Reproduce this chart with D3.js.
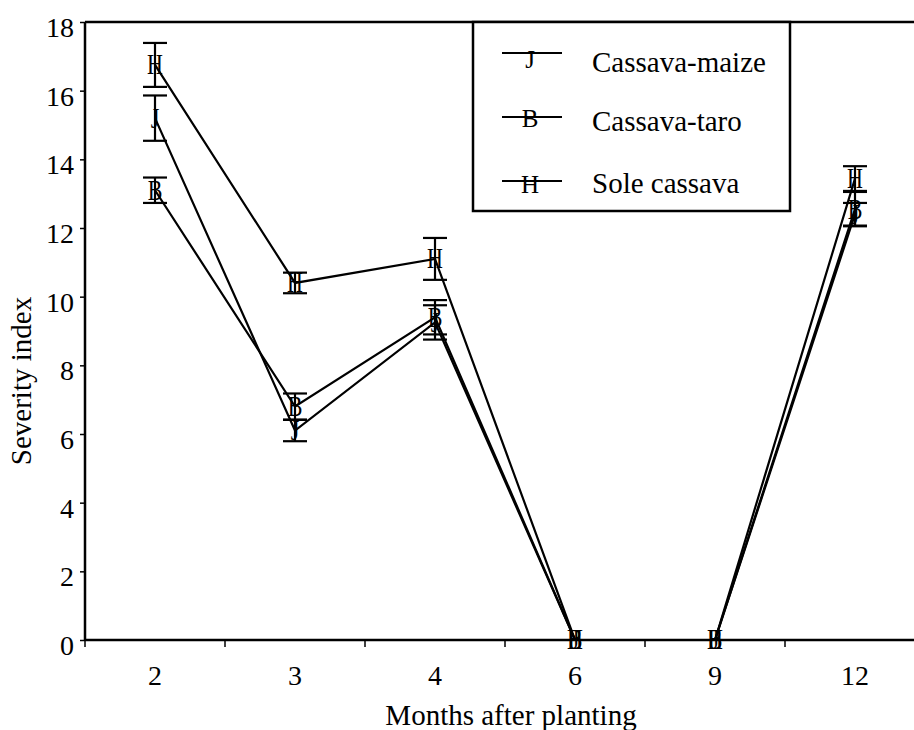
<!DOCTYPE html>
<html><head><meta charset="utf-8">
<script src="https://cdn.jsdelivr.net/npm/d3@7"></script>
<style>body{margin:0;background:#fff} text{font-family:"Liberation Serif","Times New Roman",serif;fill:#000}</style>
</head><body><svg id="c" width="914" height="730"></svg>
<script>
// ---- data ----
const months = ["2","3","4","6","9","12"];
const yTicks = [0,2,4,6,8,10,12,14,16,18];
const seriesNames = ["Cassava-maize","Cassava-taro","Sole cassava"];
const seriesSymbols = ["J","B","H"];
const maizeValues = [15.2, 6.1, 9.25, 0, 0, 12.4];
const maizeErrors = [0.66, 0.31, 0.5, 0, 0, 0.33];
const taroValues  = [13.1, 6.8, 9.4, 0, 0, 12.55];
const taroErrors  = [0.37, 0.38, 0.5, 0, 0, 0.5];
const soleValues  = [16.75, 10.4, 11.1, 0, 0, 13.44];
const soleErrors  = [0.64, 0.3, 0.61, 0, 0, 0.36];
const xTitle = "Months after planting";
const yTitle = "Severity index";

const seriesValues = [maizeValues, taroValues, soleValues];
const seriesErrors = [maizeErrors, taroErrors, soleErrors];

// ---- layout ----
const svg = d3.select("#c");
const pLeft = 85, pRight = 925, pTop = 22, pBottom = 640;
const x = d3.scaleBand().domain(months).range([pLeft, pRight]).padding(0);
const y = d3.scaleLinear().domain([0, 18]).range([pBottom, pTop]);
const cx = m => x(m) + x.bandwidth() / 2;

// top border
svg.append("line").attr("x1", pLeft).attr("x2", 914).attr("y1", y(18)).attr("y2", y(18))
  .attr("stroke", "#000").attr("stroke-width", 2.5);

// y axis
const yAxis = svg.append("g").attr("transform", `translate(${pLeft},0)`)
  .call(d3.axisLeft(y).tickValues(yTicks).tickSize(5).tickFormat(d3.format("d")));
yAxis.select(".domain").attr("stroke-width", 2.5).attr("d", `M0,${pTop}V${pBottom}`);
yAxis.selectAll(".tick line").attr("stroke-width", 1.5);
yAxis.selectAll(".tick text").attr("font-size", 28).attr("font-family", "Liberation Serif")
  .attr("x", -11).attr("dy", null).attr("y", 14.5);

// x axis
const xAxis = svg.append("g").attr("transform", `translate(0,${pBottom})`)
  .call(d3.axisBottom(x).tickSize(0));
xAxis.select(".domain").attr("stroke-width", 2.5).attr("d", `M${pLeft},0H${pRight}`);
xAxis.selectAll(".tick text").attr("font-size", 28).attr("font-family", "Liberation Serif")
  .attr("dy", null).attr("y", 45);
// boundary ticks
const bounds = months.map(m => x(m)).concat([pRight]);
svg.append("g").selectAll("line").data(bounds).join("line")
  .attr("x1", d => d).attr("x2", d => d).attr("y1", pBottom).attr("y2", pBottom + 7)
  .attr("stroke", "#000").attr("stroke-width", 1.5);

// titles
svg.append("text").attr("x", 511).attr("y", 725).attr("text-anchor", "middle")
  .attr("font-size", 29).text(xTitle);
svg.append("text").attr("transform", "translate(31,381) rotate(-90)").attr("text-anchor", "middle")
  .attr("font-size", 29).text(yTitle);

// lines
const line = d3.line().x(d => cx(d.m)).y(d => y(d.v));
seriesValues.forEach((vals, i) => {
  const pts = months.map((m, j) => ({m, v: vals[j], e: seriesErrors[i][j]}));
  svg.append("path").datum(pts).attr("d", line).attr("fill", "none")
    .attr("stroke", "#000").attr("stroke-width", 2.2);
});

// error bars + markers
seriesValues.forEach((vals, i) => {
  const pts = months.map((m, j) => ({m, v: vals[j], e: seriesErrors[i][j]}));
  const g = svg.append("g");
  const eb = g.selectAll("g.eb").data(pts.filter(d => d.e > 0)).join("g");
  eb.append("line").attr("x1", d => cx(d.m)).attr("x2", d => cx(d.m))
    .attr("y1", d => y(d.v - d.e)).attr("y2", d => y(d.v + d.e))
    .attr("stroke", "#000").attr("stroke-width", 2.2);
  [-1, 1].forEach(s => {
    eb.append("line").attr("x1", d => cx(d.m) - 12).attr("x2", d => cx(d.m) + 12)
      .attr("y1", d => y(d.v + s * d.e)).attr("y2", d => y(d.v + s * d.e))
      .attr("stroke", "#000").attr("stroke-width", 2.2);
  });
  g.selectAll("text").data(pts).join("text")
    .attr("transform", d => `translate(${cx(d.m)},${y(d.v)}) scale(1,1.3)`)
    .attr("y", 7.3).attr("text-anchor", "middle").attr("font-size", 22)
    .text(seriesSymbols[i]);
});

// legend
const lg = svg.append("g");
lg.append("rect").attr("x", 473).attr("y", 22).attr("width", 317).attr("height", 189)
  .attr("fill", "#fff").attr("stroke", "#000").attr("stroke-width", 2.5);
const lineYs = [53, 117, 181];
const glyphBase = [68, 127, 193];
const textBase = [72, 131, 193];
seriesNames.forEach((n, i) => {
  lg.append("line").attr("x1", 502).attr("x2", 562).attr("y1", lineYs[i]).attr("y2", lineYs[i])
    .attr("stroke", "#000").attr("stroke-width", 2);
  lg.append("text").attr("x", 530).attr("y", glyphBase[i]).attr("text-anchor", "middle")
    .attr("font-size", 25).text(seriesSymbols[i]);
  lg.append("text").attr("x", 592).attr("y", textBase[i]).attr("font-size", 29).text(n);
});
</script></body></html>
